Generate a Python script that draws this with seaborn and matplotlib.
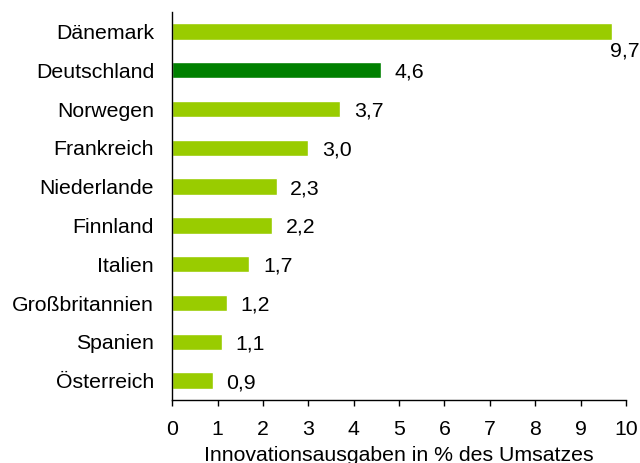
import matplotlib
matplotlib.use("Agg")
import matplotlib.pyplot as plt
import seaborn as sns
import pandas as pd

countries = ["Dänemark", "Deutschland", "Norwegen", "Frankreich", "Niederlande",
             "Finnland", "Italien", "Großbritannien", "Spanien", "Österreich"]
values = [9.7, 4.6, 3.7, 3.0, 2.3, 2.2, 1.7, 1.2, 1.1, 0.9]
highlight = "Deutschland"

sns.set_style("white")
plt.rcParams["font.family"] = ["Liberation Sans", "DejaVu Sans"]
plt.rcParams["text.color"] = "black"
plt.rcParams["xtick.color"] = "black"
plt.rcParams["ytick.color"] = "black"
plt.rcParams["axes.labelcolor"] = "black"

df = pd.DataFrame({"land": countries, "wert": values})
palette = {c: ("#008000" if c == highlight else "#99CC00") for c in countries}

fs = 15.3
fig = plt.figure(figsize=(6.4, 4.63), dpi=100)
ax = fig.add_axes([0.269, 0.136, 0.709, 0.838])
sns.barplot(data=df, y="land", x="wert", hue="land", palette=palette,
            order=countries, width=0.42, legend=False, ax=ax, saturation=1)

for i, v in enumerate(values):
    lbl = f"{v:.1f}".replace(".", ",")
    if v > 9:
        # zu lang fuer Platz rechts: Label unter den Balken
        ax.text(v - 0.05, i + 0.5, lbl, ha="left", va="center", fontsize=fs, clip_on=False)
    else:
        ax.text(v + 0.3, i + 0.05, lbl, ha="left", va="center", fontsize=fs)

ax.set_xlim(0, 10)
ax.set_ylim(9.5, -0.5)
ax.set_xticks(range(0, 11))
ax.set_xlabel("Innovationsausgaben in % des Umsatzes", fontsize=fs, labelpad=5)
ax.set_ylabel("")
ax.tick_params(axis="x", labelsize=fs, length=4.5, width=1, color="black", direction="out", bottom=True, pad=10)
ax.tick_params(axis="y", labelsize=fs, length=0, pad=13)
sns.despine(ax=ax)
for s in ["left", "bottom"]:
    ax.spines[s].set_color("black")
    ax.spines[s].set_linewidth(1)

fig.savefig("out.png", dpi=100)
